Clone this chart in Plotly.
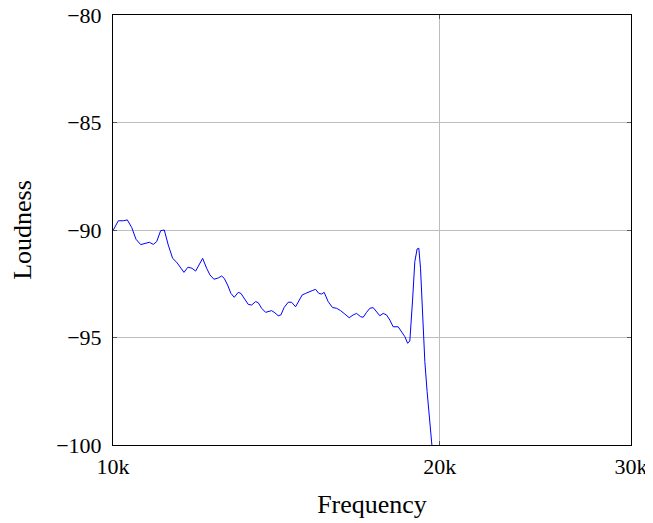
import plotly.graph_objects as go

# Frequency (Hz) and loudness (dB)
frequency = [10000, 10113, 10221, 10308, 10404, 10500, 10605, 10702, 10800, 10892,
             10971, 11064, 11149, 11244, 11349, 11446, 11526, 11624, 11723, 11823,
             11916, 12007, 12094, 12197, 12283, 12387, 12501, 12591, 12661, 12752,
             12842, 12932, 13042, 13117, 13229, 13322, 13418, 13532, 13607, 13705,
             13822, 13919, 13999, 14097, 14196, 14278, 14378, 14500, 14605, 14729,
             14811, 14937, 15045, 15151, 15257, 15367, 15475, 15564, 15650, 15783,
             15931, 16067, 16204, 16352, 16502, 16642, 16763, 16905, 16999, 17122,
             17242, 17363, 17489, 17611, 17735, 17863, 17989, 18115, 18308, 18440,
             18570, 18680, 18767, 18875, 18967, 19060, 19129, 19198, 19280, 19374,
             19468, 19551, 19676, 19747]
loudness = [-90.03, -89.57, -89.57, -89.53, -89.88, -90.43, -90.68, -90.62, -90.57, -90.67,
            -90.54, -90.03, -90.00, -90.70, -91.32, -91.50, -91.73, -91.97, -91.73, -91.78,
            -91.91, -91.60, -91.32, -91.78, -92.09, -92.29, -92.23, -92.14, -92.25, -92.56,
            -92.95, -93.13, -92.90, -92.95, -93.26, -93.46, -93.49, -93.33, -93.38, -93.64,
            -93.83, -93.80, -93.75, -93.85, -93.99, -93.95, -93.60, -93.36, -93.36, -93.57,
            -93.36, -93.02, -92.95, -92.90, -92.82, -92.76, -92.95, -92.98, -92.90, -93.33,
            -93.61, -93.64, -93.75, -93.91, -94.08, -93.95, -93.88, -94.03, -94.06, -93.83,
            -93.64, -93.61, -93.80, -93.99, -93.88, -93.95, -94.19, -94.50, -94.50, -94.73,
            -94.96, -95.27, -95.16, -93.30, -91.47, -90.88, -90.85, -91.78, -93.80, -96.12,
            -97.52, -98.45, -100.00, -101.00]

x_tickvals = [10000, 20000, 30000]
x_ticktext = ["10k", "20k", "30k"]
y_tickvals = [-100, -95, -90, -85, -80]

FONT = "Liberation Serif"

fig = go.Figure()
fig.add_trace(go.Scatter(x=frequency, y=loudness, mode="lines",
                         line=dict(color="#0000ff", width=1), showlegend=False))

fig.update_layout(
    width=645, height=515,
    margin=dict(l=105, r=22, t=7, b=78),
    paper_bgcolor="white", plot_bgcolor="white",
    font=dict(family=FONT, size=22, color="black"),
    xaxis=dict(type="log", range=[4, 4.47712125], tickvals=x_tickvals, ticktext=x_ticktext,
               showgrid=True, gridcolor="#bdbdbd", gridwidth=1,
               showline=True, linecolor="black", linewidth=1, mirror="ticks",
               ticks="inside", ticklen=4, tickcolor="#555555",
               title=dict(text="Frequency", standoff=16), zeroline=False,
               ticklabelstandoff=2, automargin=False, ticklabeloverflow="allow"),
    yaxis=dict(range=[-100, -80], tickvals=y_tickvals,
               showgrid=True, gridcolor="#bdbdbd", gridwidth=1,
               showline=True, linecolor="black", linewidth=1, mirror="ticks",
               ticks="inside", ticklen=4, tickcolor="#555555",
               title=dict(text="Loudness", standoff=22), zeroline=False,
               ticklabelstandoff=6, automargin=False, ticklabeloverflow="allow"),
)

fig.write_html("out.html")
